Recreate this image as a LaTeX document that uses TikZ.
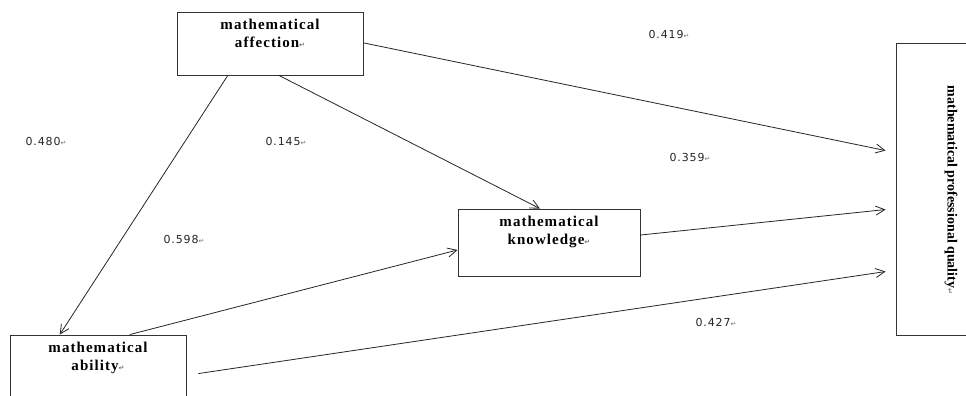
\documentclass[tikz,border=0pt]{standalone}
\usepackage{fontspec}
\setmainfont{Liberation Serif}
\newfontfamily\boxfont[LetterSpace=7]{Liberation Serif}
\newfontfamily\numfont[LetterSpace=8]{DejaVu Sans}
\newfontfamily\symfont{DejaVu Sans}
\usetikzlibrary{arrows.meta,calc}
\newcommand{\pmark}{{\symfont\fontsize{7}{7}\selectfont\color{black!55}↵}}
\tikzset{
  box/.style={draw=black!80, line width=0.9pt, inner sep=0pt, rectangle},
  lbl/.style={font=\boxfont\bfseries\fontsize{15}{18}\selectfont, align=center, anchor=north, inner sep=0pt},
  coef/.style={font=\numfont\fontsize{11}{13}\selectfont, text=black!85, inner sep=0pt},
  arr/.style={-{Straight Barb[length=9pt,width=9pt]}, line width=0.8pt, draw=black!85},
}
\begin{document}
\begin{tikzpicture}[x=1pt,y=-1pt]
\useasboundingbox (0,0) rectangle (966,396);
\clip (0,0) rectangle (966,396);
\fill[white] (0,0) rectangle (966,396);
% boxes
\node[box, minimum width=186, minimum height=63] (aff) at (270,43.5) {};
\node[box, minimum width=182, minimum height=67] (kno) at (549,242.5) {};
\node[box, minimum width=176, minimum height=80] (abi) at (98,375) {};
\node[box, minimum width=90, minimum height=292] (qua) at (941,189) {};
% box texts
\node[lbl] (afft) at ($(aff.north)+(0,7)$) {mathematical\\affection\pmark};
\node[lbl] (knot) at ($(kno.north)+(0,7)$) {mathematical\\knowledge\pmark};
\node[lbl] (abit) at ($(abi.north)+(0,7)$) {mathematical\\ability\pmark};
\node[rotate=-90, font=\bfseries\fontsize{14}{16}\selectfont, inner sep=0pt] (quat) at (951,190) {mathematical professional quality\pmark};
% anchor points
\coordinate (a1) at ($(aff.south west)!0.274!(aff.south east)$);
\coordinate (a2) at ($(aff.south west)!0.548!(aff.south east)$);
\coordinate (a3) at ($(aff.north east)!0.49!(aff.south east)$);
\coordinate (b1) at ($(abi.north west)!0.284!(abi.north east)$);
\coordinate (b2) at ($(abi.north west)!0.68!(abi.north east)$);
\coordinate (b3) at ($(abi.north east)+(12,39)$);
\coordinate (k1) at ($(kno.north west)!0.45!(kno.north east)$);
\coordinate (k2) at ($(kno.north west)!0.61!(kno.south west)$);
\coordinate (k3) at ($(kno.north east)!0.39!(kno.south east)$);
\coordinate (q1) at ($(qua.north west)+(-10,108)$);
\coordinate (q2) at ($(qua.north west)+(-10,167)$);
\coordinate (q3) at ($(qua.north west)+(-10,229)$);
% arrows
\draw[arr] (a3) -- (q1);
\draw[arr] (a2) -- (k1);
\draw[arr] (a1) -- (b1);
\draw[arr] (b2) -- (k2);
\draw[arr] (k3) -- (q2);
\draw[arr] (b3) -- (q3);
% coefficients
\node[coef] (c1) at (669,34) {0.419\pmark};
\node[coef] (c2) at (46,141) {0.480\pmark};
\node[coef] (c3) at (286,141) {0.145\pmark};
\node[coef] (c4) at (690,157) {0.359\pmark};
\node[coef] (c5) at (184,239) {0.598\pmark};
\node[coef] (c6) at (716,322) {0.427\pmark};
\end{tikzpicture}
\end{document}
